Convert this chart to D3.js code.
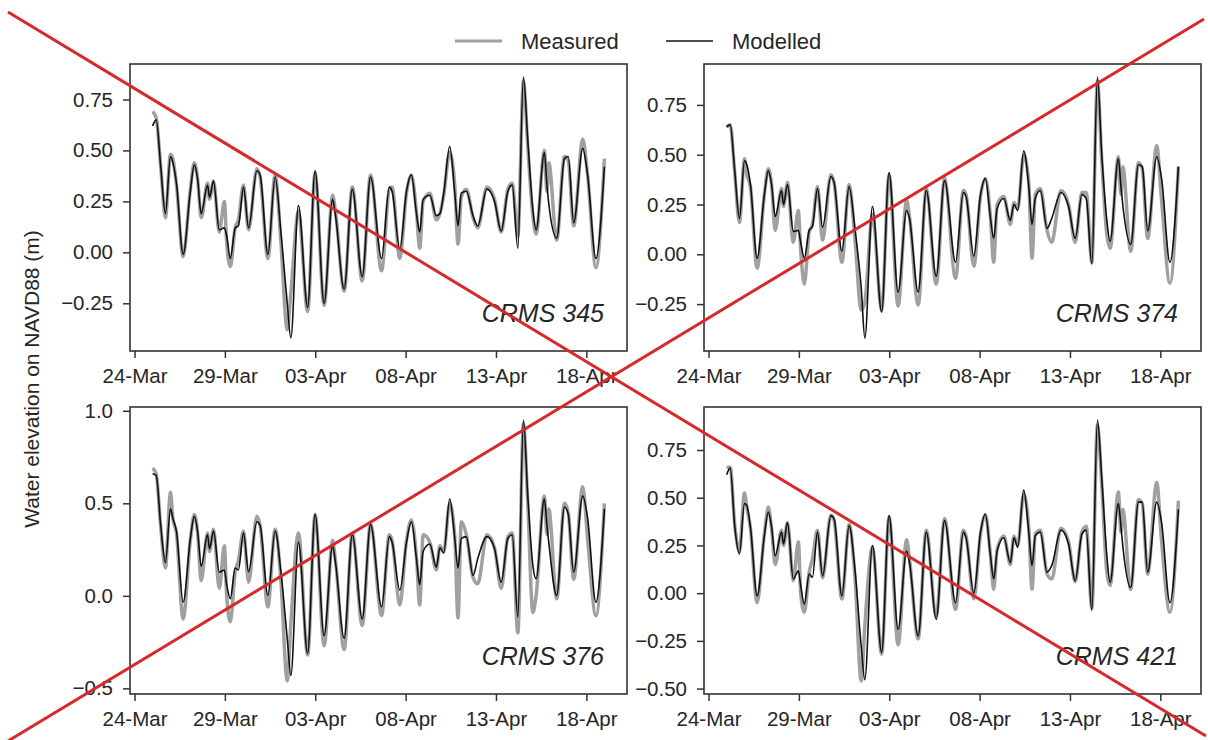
<!DOCTYPE html>
<html>
<head>
<meta charset="utf-8">
<script src="https://cdnjs.cloudflare.com/ajax/libs/d3/7.8.5/d3.min.js"></script>
<style>
  body { margin: 0; background: #fff; }
  svg text { font-family: "Liberation Sans", Arial, sans-serif; fill: #262626; }
</style>
</head>
<body>
<div id="chart"></div>
<script>
// Figure size
var w = 1208;
var h = 740;

// Sample times, in days after 24-Mar 00:00 (turning points of the tide)
var days = [1.00, 1.20, 1.45, 1.71, 1.99, 2.12, 2.32, 2.69, 3.09, 3.31, 3.49, 3.69, 4.04, 4.15, 4.37, 4.69,
  4.97, 5.10, 5.30, 5.57, 5.75, 6.03, 6.31, 6.77, 6.95, 7.38, 7.78, 8.10, 8.45, 8.65, 9.07, 9.58,
  9.99, 10.49, 10.96, 11.12, 11.60, 12.05, 12.60, 13.06, 13.67, 14.10, 14.25, 14.68, 15.05, 15.32, 15.60, 15.78,
  15.97, 16.34, 16.70, 16.90, 17.11, 17.44, 17.72, 17.90, 18.08, 18.36, 18.73, 18.99, 19.50, 19.92, 20.29, 20.66,
  20.90, 21.21, 21.52, 21.76, 22.04, 22.22, 22.68, 22.82, 22.92, 23.36, 23.79, 24.00, 24.30, 24.80, 25.07, 25.53, 26.00];

// Water elevation (m, NAVD88) per station
var meas345 = [0.69, 0.66, 0.42, 0.17, 0.48, 0.46, 0.33, -0.02, 0.31, 0.44, 0.36, 0.17, 0.34, 0.26, 0.35, 0.10,
  0.25, 0.05, -0.07, 0.12, 0.16, 0.33, 0.11, 0.41, 0.37, -0.03, 0.38, 0.05, -0.38, -0.20, 0.20, -0.29,
  0.39, -0.26, 0.28, 0.20, -0.19, 0.32, -0.14, 0.38, -0.09, 0.31, 0.32, -0.03, 0.29, 0.38, 0.20, 0.02,
  0.25, 0.29, 0.16, 0.19, 0.28, 0.49, 0.33, 0.04, 0.27, 0.31, 0.17, 0.12, 0.32, 0.26, 0.10, 0.31,
  0.34, 0.08, 0.84, 0.52, 0.18, 0.09, 0.50, 0.30, 0.44, 0.06, 0.47, 0.45, 0.13, 0.555, 0.38, -0.075, 0.46];
var mod345 = [0.62, 0.65, 0.42, 0.19, 0.47, 0.44, 0.34, -0.01, 0.30, 0.43, 0.36, 0.19, 0.33, 0.27, 0.35, 0.11,
  0.12, 0.08, -0.03, 0.12, 0.13, 0.32, 0.12, 0.40, 0.38, -0.01, 0.37, 0.10, -0.25, -0.42, 0.23, -0.27,
  0.40, -0.25, 0.26, 0.18, -0.18, 0.31, -0.12, 0.37, -0.03, 0.32, 0.30, 0.015, 0.30, 0.38, 0.19, 0.10,
  0.26, 0.28, 0.18, 0.19, 0.29, 0.52, 0.29, 0.13, 0.29, 0.30, 0.18, 0.13, 0.31, 0.25, 0.105, 0.30,
  0.33, 0.02, 0.86, 0.55, 0.21, 0.11, 0.49, 0.33, 0.24, 0.07, 0.46, 0.47, 0.145, 0.51, 0.38, -0.03, 0.42];

var meas374 = [0.64, 0.65, 0.41, 0.16, 0.48, 0.40, 0.34, -0.07, 0.30, 0.43, 0.35, 0.12, 0.33, 0.24, 0.36, 0.06,
  0.22, 0.02, -0.15, 0.11, 0.15, 0.34, 0.07, 0.40, 0.36, -0.04, 0.35, 0.08, -0.28, -0.24, 0.20, -0.28,
  0.40, -0.26, 0.27, 0.19, -0.255, 0.33, -0.15, 0.38, -0.12, 0.32, 0.30, -0.06, 0.29, 0.38, 0.19, -0.04,
  0.25, 0.29, 0.15, 0.26, 0.23, 0.50, 0.36, -0.02, 0.30, 0.33, 0.12, 0.06, 0.32, 0.25, 0.06, 0.31,
  0.31, -0.04, 0.87, 0.47, 0.10, 0.03, 0.49, 0.30, 0.44, 0.015, 0.46, 0.43, 0.08, 0.545, 0.27, -0.145, 0.44];
var mod374 = [0.64, 0.65, 0.42, 0.18, 0.47, 0.45, 0.35, -0.02, 0.30, 0.42, 0.35, 0.19, 0.32, 0.25, 0.35, 0.115,
  0.12, 0.06, -0.02, 0.12, 0.14, 0.33, 0.135, 0.39, 0.36, 0.015, 0.34, 0.13, -0.17, -0.42, 0.24, -0.29,
  0.41, -0.19, 0.22, 0.18, -0.19, 0.32, -0.11, 0.37, -0.04, 0.31, 0.29, -0.01, 0.30, 0.38, 0.18, 0.08,
  0.23, 0.28, 0.17, 0.25, 0.22, 0.52, 0.34, 0.15, 0.28, 0.32, 0.13, 0.18, 0.31, 0.24, 0.08, 0.30,
  0.28, -0.05, 0.89, 0.50, 0.17, 0.065, 0.48, 0.34, 0.25, 0.05, 0.45, 0.44, 0.117, 0.49, 0.38, -0.04, 0.44];

var meas376 = [0.69, 0.66, 0.37, 0.15, 0.56, 0.42, 0.34, -0.125, 0.30, 0.44, 0.34, 0.083, 0.34, 0.24, 0.36, 0.04,
  0.27, 0.00, -0.14, 0.13, 0.19, 0.35, 0.074, 0.43, 0.38, -0.06, 0.36, 0.08, -0.46, -0.15, 0.34, -0.32,
  0.44, -0.27, 0.30, 0.19, -0.29, 0.34, -0.16, 0.39, -0.106, 0.33, 0.30, -0.05, 0.30, 0.41, 0.21, -0.05,
  0.33, 0.29, 0.14, 0.27, 0.24, 0.50, 0.32, -0.12, 0.40, 0.33, 0.10, 0.065, 0.33, 0.26, 0.04, 0.32,
  0.34, -0.20, 0.93, 0.50, -0.09, 0.00, 0.54, 0.33, 0.47, -0.016, 0.50, 0.45, 0.09, 0.59, 0.31, -0.107, 0.50];
var mod376 = [0.66, 0.65, 0.38, 0.18, 0.47, 0.42, 0.35, -0.035, 0.31, 0.43, 0.35, 0.16, 0.33, 0.255, 0.35, 0.128,
  0.14, 0.06, -0.015, 0.15, 0.14, 0.34, 0.13, 0.40, 0.38, 0.002, 0.35, 0.13, -0.23, -0.43, 0.29, -0.31,
  0.44, -0.215, 0.27, 0.18, -0.23, 0.33, -0.125, 0.385, -0.06, 0.32, 0.29, 0.03, 0.29, 0.40, 0.20, 0.06,
  0.24, 0.28, 0.155, 0.26, 0.23, 0.525, 0.31, 0.15, 0.31, 0.32, 0.11, 0.20, 0.32, 0.255, 0.074, 0.31,
  0.33, -0.115, 0.95, 0.54, 0.165, 0.092, 0.525, 0.38, 0.29, 0.002, 0.48, 0.44, 0.128, 0.54, 0.42, -0.035, 0.47];

var meas421 = [0.66, 0.66, 0.36, 0.22, 0.525, 0.45, 0.34, -0.05, 0.31, 0.45, 0.34, 0.15, 0.33, 0.25, 0.37, 0.065,
  0.27, 0.00, -0.10, 0.11, 0.18, 0.33, 0.08, 0.41, 0.38, -0.03, 0.36, 0.09, -0.46, -0.17, 0.24, -0.32,
  0.40, -0.27, 0.28, 0.18, -0.24, 0.33, -0.12, 0.39, -0.085, 0.33, 0.30, -0.03, 0.31, 0.41, 0.20, 0.021,
  0.23, 0.30, 0.15, 0.30, 0.25, 0.52, 0.34, 0.021, 0.31, 0.33, 0.10, 0.074, 0.34, 0.27, 0.06, 0.32,
  0.35, -0.08, 0.88, 0.57, 0.109, 0.04, 0.53, 0.32, 0.44, 0.02, 0.49, 0.47, 0.10, 0.58, 0.27, -0.10, 0.485];
var mod421 = [0.62, 0.655, 0.35, 0.205, 0.47, 0.46, 0.345, -0.015, 0.30, 0.425, 0.345, 0.196, 0.32, 0.258, 0.37, 0.074,
  0.117, 0.04, -0.058, 0.10, 0.083, 0.32, 0.09, 0.406, 0.39, -0.015, 0.354, 0.126, -0.28, -0.453, 0.25, -0.31,
  0.406, -0.19, 0.22, 0.16, -0.225, 0.32, -0.137, 0.38, -0.05, 0.32, 0.29, 0.00, 0.32, 0.415, 0.196, 0.074,
  0.22, 0.29, 0.16, 0.29, 0.24, 0.54, 0.32, 0.144, 0.30, 0.32, 0.11, 0.144, 0.33, 0.258, 0.065, 0.31,
  0.33, -0.09, 0.907, 0.60, 0.196, 0.056, 0.47, 0.35, 0.25, 0.03, 0.477, 0.477, 0.11, 0.477, 0.37, -0.05, 0.44];

var stations = ["CRMS 345", "CRMS 374", "CRMS 376", "CRMS 421"];
var measured = [meas345, meas374, meas376, meas421];
var modelled = [mod345, mod374, mod376, mod421];

// Tick values
var xTickDays = [0, 5, 10, 15, 20, 25];
var yTicks = [
  [-0.25, 0, 0.25, 0.5, 0.75],
  [-0.25, 0, 0.25, 0.5, 0.75],
  [-0.5, 0, 0.5, 1.0],
  [-0.5, -0.25, 0, 0.25, 0.5, 0.75]
];
var yFormats = [".2f", ".2f", ".1f", ".2f"];
var legendLabels = ["Measured", "Modelled"];

// Panel layout (2 x 2 grid)
var pw = 497, ph = 287;
var panels = [
  {x: 130, y: 64}, {x: 704, y: 64},
  {x: 130, y: 407}, {x: 704, y: 407}
];

var measColor = "#a0a0a0", modColor = "#111";
var startDate = Date.UTC(2021, 2, 24);
var dayMs = 864e5;
function toDate(d) { return new Date(startDate + d * dayMs); }

var svg = d3.select('#chart').append('svg')
  .attr('width', w)
  .attr('height', h);

// x limits padded by 5% of the data span, matplotlib style
var dExt = d3.extent(days), dPad = (dExt[1] - dExt[0]) * 0.05;
var x = d3.scaleUtc()
  .domain([toDate(dExt[0] - dPad), toDate(dExt[1] + dPad)])
  .range([0, pw]);

panels.forEach(function(p, i) {
  var g = svg.append('g')
    .attr('transform', 'translate(' + p.x + ',' + p.y + ')');

  var ext = d3.extent(measured[i].concat(modelled[i]));
  var pad = (ext[1] - ext[0]) * 0.05;
  var y = d3.scaleLinear()
    .domain([ext[0] - pad, ext[1] + pad])
    .range([ph, 0]);

  var line = function(vals) {
    return d3.line()
      .x(function(d, k) { return x(toDate(days[k])); })
      .y(function(d) { return y(d); })
      .curve(d3.curveMonotoneX)(vals);
  };

  g.append('path')
    .attr('d', line(measured[i]))
    .attr('fill', 'none')
    .attr('stroke', measColor)
    .attr('stroke-width', 3.5)
    .attr('stroke-linejoin', 'round');

  g.append('path')
    .attr('d', line(modelled[i]))
    .attr('fill', 'none')
    .attr('stroke', modColor)
    .attr('stroke-width', 1.6)
    .attr('stroke-linejoin', 'round');

  // axes
  var xAxis = g.append('g')
    .attr('transform', 'translate(0,' + ph + ')')
    .call(d3.axisBottom(x)
      .tickValues(xTickDays.map(toDate))
      .tickFormat(d3.utcFormat('%d-%b'))
      .tickSize(7)
      .tickPadding(10));

  var yAxis = g.append('g')
    .call(d3.axisLeft(y)
      .tickValues(yTicks[i])
      .tickFormat(d3.format(yFormats[i]))
      .tickSize(7)
      .tickPadding(10));

  [xAxis, yAxis].forEach(function(a) {
    a.attr('font-family', null).attr('font-size', null);
    a.select('.domain').remove();
    a.selectAll('.tick line').attr('stroke', '#333').attr('stroke-width', 1.5);
    a.selectAll('.tick text').style('font-size', '20.5px').attr('fill', '#262626');
  });

  // frame
  g.append('rect')
    .attr('width', pw)
    .attr('height', ph)
    .attr('fill', 'none')
    .attr('stroke', '#333')
    .attr('stroke-width', 1.6);

  g.append('text')
    .attr('x', pw - 23)
    .attr('y', ph - 29)
    .attr('text-anchor', 'end')
    .style('font-size', '25px')
    .style('font-style', 'italic')
    .text(stations[i]);
});

// shared y label
svg.append('text')
  .attr('transform', 'translate(39,' + (64 + 694) / 2 + ') rotate(-90)')
  .attr('text-anchor', 'middle')
  .style('font-size', '21px')
  .text('Water elevation on NAVD88 (m)');

// legend
var legend = svg.append('g').attr('class', 'legend');
var legendX = [455, 666];
legendLabels.forEach(function(lab, i) {
  legend.append('line')
    .attr('x1', legendX[i]).attr('x2', legendX[i] + 47)
    .attr('y1', 41).attr('y2', 41)
    .attr('stroke', i === 0 ? measColor : modColor)
    .attr('stroke-width', i === 0 ? 3 : 1.6);
  legend.append('text')
    .attr('x', legendX[i] + 66)
    .attr('y', 49)
    .style('font-size', '22px')
    .text(lab);
});

// red cross over the whole figure
var cross = [[8, 12, 1206, 736], [1204, 19, 8, 741]];
svg.selectAll('line.cross')
  .data(cross)
  .enter().append('line')
  .attr('class', 'cross')
  .attr('x1', function(d) { return d[0]; })
  .attr('y1', function(d) { return d[1]; })
  .attr('x2', function(d) { return d[2]; })
  .attr('y2', function(d) { return d[3]; })
  .attr('stroke', '#d62a2a')
  .attr('stroke-width', 3);
</script>
</body>
</html>
